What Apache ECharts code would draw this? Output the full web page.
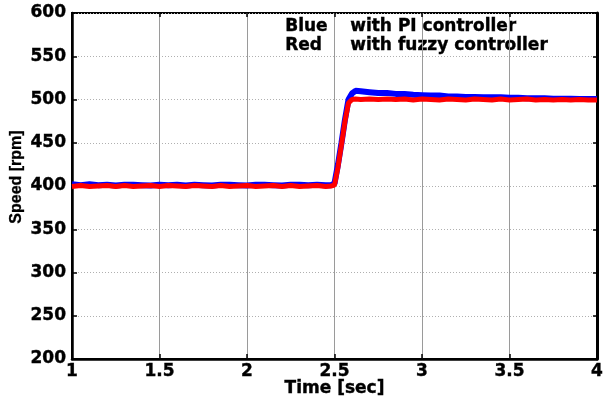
<!DOCTYPE html>
<html>
<head>
<meta charset="utf-8">
<script src="https://cdn.jsdelivr.net/npm/echarts@6/dist/echarts.min.js"></script>
<style>
  html, body { margin: 0; padding: 0; background: #fff; }
  #chart { width: 603px; height: 401px; }
</style>
</head>
<body>
<div id="chart"></div>
<script>
// Time samples [sec]; denser around the speed step at 2.5 s
const timeSec = [
  1.00, 1.05, 1.10, 1.15, 1.20, 1.25, 1.30, 1.35, 1.40, 1.45,
  1.50, 1.55, 1.60, 1.65, 1.70, 1.75, 1.80, 1.85, 1.90, 1.95,
  2.00, 2.05, 2.10, 2.15, 2.20, 2.25, 2.30, 2.35, 2.40, 2.45,
  2.48, 2.50, 2.52, 2.54, 2.56, 2.58, 2.60, 2.62, 2.65,
  2.70, 2.75, 2.80, 2.85, 2.90, 2.95, 3.00, 3.05, 3.10, 3.15,
  3.20, 3.25, 3.30, 3.35, 3.40, 3.45, 3.50, 3.55, 3.60, 3.65,
  3.70, 3.75, 3.80, 3.85, 3.90, 3.95, 4.00
];

// Speed [rpm] with PI controller (blue)
const speedPI = [
  402, 401, 402, 401, 401.5, 400.5, 401.5, 401.5, 401, 400.5,
  401.5, 401, 401.5, 400.5, 401.5, 401, 400.5, 401.5, 401.5, 401,
  400.5, 401.5, 401.5, 401, 400.5, 401.5, 401.5, 401, 401.5, 401,
  401, 403, 425, 450, 477, 500, 507, 510, 509.5,
  508.5, 507.5, 507.5, 506.5, 506.5, 505.5, 505, 504.5, 504.5, 503.5,
  503.5, 503, 503, 502.5, 502.5, 502.5, 502, 502, 501.5, 501.5,
  501.5, 501, 501, 501, 500.5, 500.5, 500.5
];

// Speed [rpm] with fuzzy controller (red)
const speedFuzzy = [
  399.5, 400.5, 399.5, 400, 400.5, 399.5, 400.5, 399.5, 400, 400.5,
  399.5, 400.5, 400, 399.5, 400.5, 400, 399.5, 400.5, 399.5, 400,
  400.5, 399.5, 400, 400.5, 399.5, 400.5, 399.5, 400, 400.5, 399.5,
  400, 401, 422, 448, 475, 496, 500, 500.5, 500,
  500.5, 500, 500.5, 500, 500.5, 499.5, 500.5, 500, 499.5, 500.5,
  500, 499.5, 500.5, 500, 499.5, 500.5, 499.5, 500, 500.5, 499.5,
  500, 499.5, 500, 499.5, 500, 499.5, 499.5
];

// Axis ranges and tick steps
const timeRange = [1, 4];
const timeStep = 0.5;
const speedRange = [200, 600];
const speedStep = 50;

// Annotation text
const legendRows = [
  ['Blue', 'with PI controller'],
  ['Red', 'with fuzzy controller']
];

const pair = (xs, ys) => xs.map((x, i) => [x, ys[i]]);

const labelFont = {
  color: '#000',
  fontFamily: 'DejaVu Sans',
  fontWeight: 'bold',
  fontSize: 17,
  textBorderColor: '#000',
  textBorderWidth: 0.4
};

const chart = echarts.init(document.getElementById('chart'), null, { renderer: 'canvas' });

chart.setOption({
  animation: false,
  backgroundColor: '#fff',
  grid: {
    left: 72, top: 13, right: 6, bottom: 42,
    outerBoundsMode: 'none',
    containLabel: false,
    show: true, borderColor: '#000', borderWidth: 2
  },
  xAxis: [{
    type: 'value',
    min: timeRange[0], max: timeRange[1], interval: timeStep,
    name: 'Time [sec]',
    nameLocation: 'middle',
    nameMoveOverlap: false,
    nameGap: 21,
    nameTextStyle: Object.assign({ verticalAlign: 'top' }, labelFont),
    axisLine: { show: true, onZero: false, lineStyle: { color: '#000', width: 2.5 } },
    axisTick: { show: true, inside: true, length: 5, lineStyle: { color: '#000', width: 1.5 } },
    axisLabel: Object.assign({ margin: 4 }, labelFont),
    splitLine: { show: true, lineStyle: { color: '#9a9a9a', width: 1, type: 'solid' } }
  }, {
    type: 'value', position: 'top',
    min: timeRange[0], max: timeRange[1], interval: timeStep,
    axisLine: { show: false },
    axisTick: { show: true, inside: true, length: 4, lineStyle: { color: '#000', width: 1.5 } },
    axisLabel: { show: false },
    splitLine: { show: false }
  }],
  yAxis: [{
    type: 'value',
    min: speedRange[0], max: speedRange[1], interval: speedStep,
    name: 'Speed [rpm]',
    nameLocation: 'middle',
    nameMoveOverlap: false,
    nameGap: 47,
    nameTextStyle: {
      color: '#000', fontFamily: 'Liberation Sans', fontWeight: 'bold', fontSize: 16,
      textBorderColor: '#000', textBorderWidth: 0.3,
      padding: [0, 0, 0, 18]
    },
    axisLine: { show: true, onZero: false, lineStyle: { color: '#000', width: 2.5 } },
    axisTick: { show: true, inside: true, length: 5, lineStyle: { color: '#000', width: 1.5 } },
    axisLabel: Object.assign({ margin: 6 }, labelFont),
    splitLine: { show: true, lineStyle: { color: '#b0b0b0', width: 1, type: [1, 2] } }
  }, {
    type: 'value', position: 'right',
    min: speedRange[0], max: speedRange[1], interval: speedStep,
    axisLine: { show: true, lineStyle: { color: '#000', width: 3 } },
    axisTick: { show: true, inside: true, length: 4, lineStyle: { color: '#000', width: 1.5 } },
    axisLabel: { show: false },
    splitLine: { show: false }
  }],
  series: [{
    name: 'PI controller',
    type: 'line',
    data: pair(timeSec, speedPI),
    showSymbol: false,
    lineStyle: { color: '#0000ff', width: 6 },
    z: 3
  }, {
    name: 'fuzzy controller',
    type: 'line',
    data: pair(timeSec, speedFuzzy),
    showSymbol: false,
    lineStyle: { color: '#ff0000', width: 5 },
    z: 4
  }],
  graphic: legendRows.flatMap((row, i) => [
    {
      type: 'text', left: 285, top: 18 + i * 19,
      style: { text: row[0], fill: '#000', stroke: '#000', lineWidth: 0.4, font: 'bold 17px "DejaVu Sans"' }
    },
    {
      type: 'text', left: 350, top: 18 + i * 19,
      style: { text: row[1], fill: '#000', stroke: '#000', lineWidth: 0.4, font: 'bold 17px "DejaVu Sans"' }
    }
  ])
});
</script>
</body>
</html>
